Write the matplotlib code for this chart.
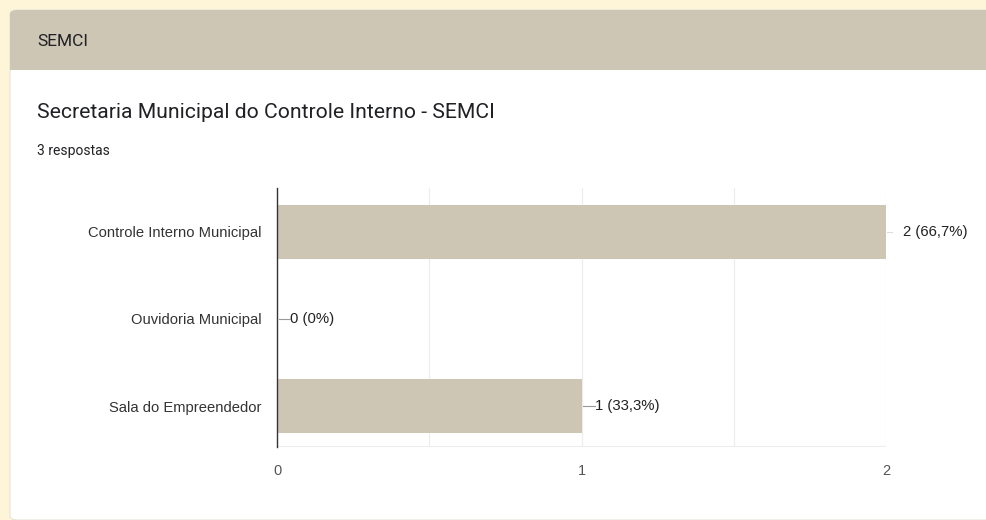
import matplotlib.pyplot as plt
from matplotlib.patches import FancyBboxPatch, Rectangle

plt.rcParams['font.family'] = ['Liberation Sans', 'DejaVu Sans']

categories = ["Controle Interno Municipal", "Ouvidoria Municipal", "Sala do Empreendedor"]
counts = [2, 0, 1]
labels = ["2 (66,7%)", "0 (0%)", "1 (33,3%)"]
xticks = [0, 1, 2]

W, H = 986, 520
fig = plt.figure(figsize=(W / 100, H / 100), dpi=100)
fig.patch.set_facecolor('#fef5d8')

def px(x, y):
    return x / W, 1 - y / H

# card
card = FancyBboxPatch(px(10, 520), (W - 10) / W + 0.02, 510 / H, boxstyle="round,pad=0,rounding_size=0.008",
                      transform=fig.transFigure, facecolor='white', edgecolor='#e6e2d8', lw=0.8, zorder=-3)
fig.patches.append(card)
head = FancyBboxPatch(px(10, 70), (W - 10) / W + 0.02, 60 / H, boxstyle="round,pad=0,rounding_size=0.008",
                      transform=fig.transFigure, facecolor='#cdc6b4', edgecolor='none', zorder=-2)
fig.patches.append(head)
fig.patches.append(Rectangle(px(10, 70), (W - 10) / W, 30 / H, transform=fig.transFigure,
                             facecolor='#cdc6b4', edgecolor='none', zorder=-2))

hfont = ['Roboto', 'DejaVu Sans']
fig.text(*px(37, 42), "SEMCI", fontsize=12.5, color='#202124', va='center', ha='left', family=hfont)
fig.text(*px(37, 113), "Secretaria Municipal do Controle Interno - SEMCI", fontsize=15.2,
         color='#202124', va='center', ha='left', family=hfont)
fig.text(*px(37, 151), "3 respostas", fontsize=10, color='#202124', va='center', ha='left', family=hfont)

# axes: x 0 at 277px, 2 at 886px; top 188, bottom 447
ax = fig.add_axes([277 / W, 1 - 447 / H, (886 - 277) / W, (447 - 188) / H])
ax.set_facecolor('none')
ypos = list(range(len(categories)))
ax.barh(ypos, counts, height=0.62, color='#cdc6b4', zorder=2)
ax.set_xlim(0, 2)
ax.set_ylim(2.47, -0.5)
ax.set_yticks(ypos)
ax.set_yticklabels(categories, fontsize=10.6, color='#333333')
ax.set_xticks(xticks)
ax.set_xticklabels([str(t) for t in xticks], fontsize=10.5, color='#555555')
ax.tick_params(axis='both', length=0)
ax.tick_params(axis='y', pad=11)
ax.tick_params(axis='x', pad=12)
for t in [0.5, 1, 1.5, 2]:
    ax.axvline(t, color='#ececec', lw=0.8, zorder=1)
ax.axhline(2.47, color='#ececec', lw=1.5, zorder=1)
for s in ['top', 'right', 'bottom']:
    ax.spines[s].set_visible(False)
ax.spines['left'].set_color('#333333')
ax.spines['left'].set_linewidth(1)
ax.spines['left'].set_zorder(3)

for y, v, lab in zip(ypos, counts, labels):
    if v == 2:
        ax.plot([v + 0.003, v + 0.02], [y, y], color='#dddddd', lw=0.8, clip_on=False)
        ax.text(v + 0.055, y, lab, fontsize=10.7, color='#222222', va='center', ha='left')
    else:
        ax.plot([v + 0.005, v + 0.043], [y, y], color='#999999', lw=0.8, clip_on=False, zorder=4)
        ax.text(v + 0.043, y, lab, fontsize=10.7, color='#222222', va='center', ha='left')

fig.savefig('out.png', dpi=100, facecolor=fig.get_facecolor())
